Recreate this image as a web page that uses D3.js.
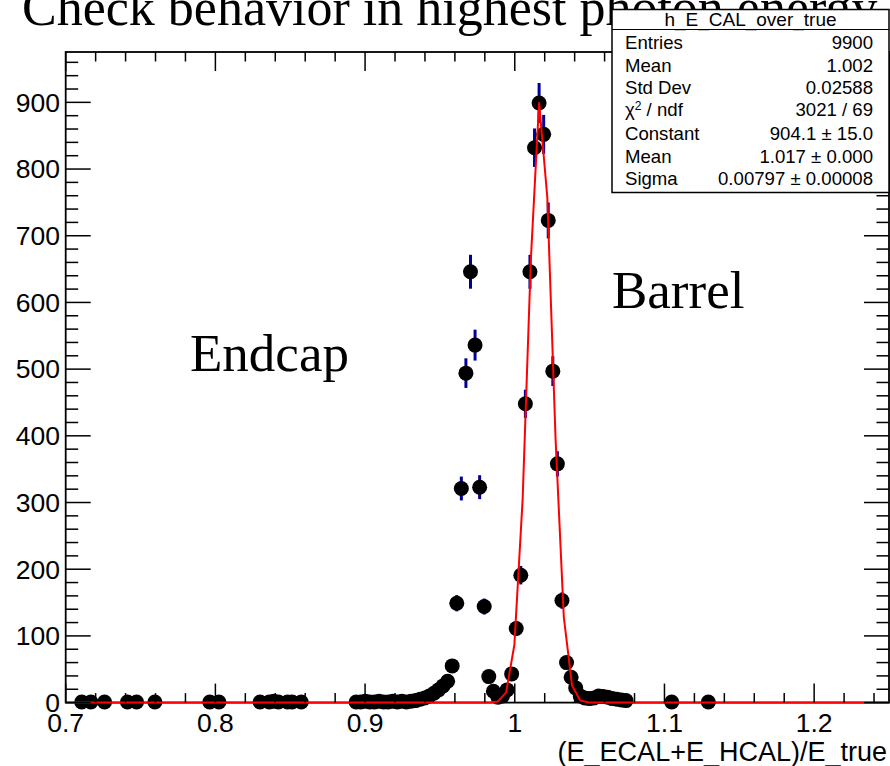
<!DOCTYPE html>
<html>
<head>
<meta charset="utf-8">
<script src="https://cdn.jsdelivr.net/npm/d3@7"></script>
<style>
  html, body { margin: 0; padding: 0; background: #ffffff; }
  svg { display: block; }
  .sans { font-family: "Liberation Sans", Arial, Helvetica, sans-serif; }
  .serif { font-family: "Liberation Serif", "Times New Roman", Times, serif; }
</style>
</head>
<body>
<svg id="chart" width="890" height="766"></svg>
<script>
// ---- histogram h_E_CAL_over_true: 180 bins on [0.7, 1.25]; filled bins only ----
const histLow = 0.7;
const histHigh = 1.25;
const histBins = 180;
const binIndex = [
  3, 5, 8, 13, 15, 19, 31, 33,
  42, 44, 45, 46, 48, 49, 51,
  63, 64, 65, 66, 67, 68, 69, 70, 71, 72, 73, 74, 75,
  76, 77, 78, 79, 80, 81, 82, 83, 84, 85, 86, 87, 88, 89, 90, 91, 92, 93, 94, 95,
  96, 97, 98, 99, 100, 101, 102, 103, 104, 105, 106, 107, 108, 109, 110, 111, 112,
  113, 114, 115, 116, 117, 118, 119, 120, 121, 122, 132, 140
];
const binCount = [
  1, 1, 1, 1, 1, 1, 1, 1,
  1, 1, 2, 1, 1, 1, 1,
  1, 1, 2, 1, 1, 2, 1, 1, 2, 1, 2, 1, 2,
  3, 5, 7, 10, 14, 19, 25, 32, 55, 149, 321, 494, 646, 536, 323, 144, 39, 17, 8, 10,
  19, 43, 111, 191, 448, 646, 832, 899, 852, 723, 497, 358, 153, 60, 38, 22, 10,
  7, 6, 7, 10, 9, 8, 6, 5, 4, 3, 1, 1
];

// ---- Gaussian fit result ----
const fitConstant = 904.1;
const fitMean = 1.017;
const fitSigma = 0.00797;
const fitSamples = 100;

// ---- axis ticks ----
const xMajorTicks = [0.7, 0.8, 0.9, 1.0, 1.1, 1.2];
const xTickLabels = ["0.7", "0.8", "0.9", "1", "1.1", "1.2"];
const yMajorTicks = [0, 100, 200, 300, 400, 500, 600, 700, 800, 900];
const yTickLabels = ["0", "100", "200", "300", "400", "500", "600", "700", "800", "900"];
const yMax = 975.5;

// ---- statistics box ----
const statsTitle = "h_E_CAL_over_true";
const statsLabels = ["Entries", "Mean", "Std Dev", "CHI2", "Constant", "Mean", "Sigma"];
const statsValues = ["9900", "1.002", "0.02588", "3021 / 69", "904.1 \u00b1 15.0", "1.017 \u00b1 0.000", "0.00797 \u00b1 0.00008"];

const titleText = "Check behavior in highest photon energy";
const axisTitle = "(E_ECAL+E_HCAL)/E_true";

// ---- layout ----
const frame = { left: 65.7, right: 889, top: 52, bottom: 702.6 };
const svg = d3.select("#chart");

const x = d3.scaleLinear().domain([histLow, histHigh]).range([frame.left, frame.right]);
const y = d3.scaleLinear().domain([0, yMax]).range([frame.bottom, frame.top]);

const binWidth = (histHigh - histLow) / histBins;
const points = binIndex.map((k, i) => ({
  x: histLow + (k + 0.5) * binWidth,
  n: binCount[i]
}));

// title (partly above the canvas)
svg.append("text")
  .attr("class", "serif")
  .attr("x", 22).attr("y", 25)
  .attr("font-size", 52)
  .attr("fill", "#000")
  .text(titleText);

// frame box
svg.append("rect")
  .attr("x", frame.left).attr("y", frame.top)
  .attr("width", frame.right - frame.left)
  .attr("height", frame.bottom - frame.top)
  .attr("fill", "none").attr("stroke", "#000").attr("stroke-width", 1.8);

// error bars
svg.append("g").selectAll("line").data(points).join("line")
  .attr("x1", d => x(d.x)).attr("x2", d => x(d.x))
  .attr("y1", d => y(d.n + Math.sqrt(d.n)))
  .attr("y2", d => y(Math.max(0, d.n - Math.sqrt(d.n))))
  .attr("stroke", "#000099").attr("stroke-width", 3);

// markers
svg.append("g").selectAll("circle").data(points).join("circle")
  .attr("cx", d => x(d.x)).attr("cy", d => y(d.n))
  .attr("r", 7.5).attr("fill", "#000");

// fitted Gaussian, sampled at the centres of fitSamples cells over the axis range
const step = (histHigh - histLow) / fitSamples;
const fitPts = d3.range(fitSamples).map(i => {
  const xv = histLow + (i + 0.5) * step;
  return [xv, fitConstant * Math.exp(-0.5 * Math.pow((xv - fitMean) / fitSigma, 2))];
});
fitPts.unshift([histLow, fitPts[0][1]]);
fitPts.push([histHigh, fitPts[fitPts.length - 1][1]]);
svg.append("path")
  .attr("d", d3.line().x(d => x(d[0])).y(d => y(d[1]))(fitPts))
  .attr("fill", "none").attr("stroke", "#ff0000").attr("stroke-width", 2);

// ticks
const tickG = svg.append("g").attr("stroke", "#000").attr("stroke-width", 1.5);
const xMinor = d3.range(0, 28).map(i => +(histLow + i * 0.02).toFixed(4)).filter(v => v <= histHigh + 1e-9);
xMinor.forEach(v => {
  const isMajor = xMajorTicks.some(m => Math.abs(m - v) < 1e-6);
  const len = isMajor ? 19 : 9.5;
  tickG.append("line").attr("x1", x(v)).attr("x2", x(v))
    .attr("y1", frame.bottom).attr("y2", frame.bottom - len);
  tickG.append("line").attr("x1", x(v)).attr("x2", x(v))
    .attr("y1", frame.top).attr("y2", frame.top + len);
});
const yMinor = d3.range(0, yMax, 20);
yMinor.forEach(v => {
  const isMajor = v % 100 === 0;
  const len = isMajor ? 25 : 12.5;
  tickG.append("line").attr("x1", frame.left).attr("x2", frame.left + len)
    .attr("y1", y(v)).attr("y2", y(v));
  tickG.append("line").attr("x1", frame.right).attr("x2", frame.right - len)
    .attr("y1", y(v)).attr("y2", y(v));
});

// tick labels
svg.append("g").selectAll("text").data(xMajorTicks).join("text")
  .attr("class", "sans")
  .attr("x", d => x(d)).attr("y", 732)
  .attr("text-anchor", "middle").attr("font-size", 26.5)
  .text((d, i) => xTickLabels[i]);
svg.append("g").selectAll("text").data(yMajorTicks).join("text")
  .attr("class", "sans")
  .attr("x", 60).attr("y", d => y(d) + 9.3)
  .attr("text-anchor", "end").attr("font-size", 26.5)
  .text((d, i) => yTickLabels[i]);

// axis title
svg.append("text")
  .attr("class", "sans")
  .attr("x", 887).attr("y", 761)
  .attr("text-anchor", "end").attr("font-size", 27)
  .text(axisTitle);

// region labels
svg.append("text").attr("class", "serif")
  .attr("x", 190).attr("y", 371).attr("font-size", 53).text("Endcap");
svg.append("text").attr("class", "serif")
  .attr("x", 612).attr("y", 308).attr("font-size", 53).text("Barrel");

// statistics box
const box = { x: 612, y: 9.5, w: 277, h: 183 };
const sg = svg.append("g").attr("class", "sans");
sg.append("rect")
  .attr("x", box.x).attr("y", box.y).attr("width", box.w).attr("height", box.h)
  .attr("fill", "#fff").attr("stroke", "#000").attr("stroke-width", 1.5);
sg.append("line")
  .attr("x1", box.x).attr("x2", box.x + box.w)
  .attr("y1", 29.5).attr("y2", 29.5)
  .attr("stroke", "#000").attr("stroke-width", 1.2);
sg.append("text")
  .attr("x", box.x + box.w / 2).attr("y", 25.5)
  .attr("text-anchor", "middle").attr("font-size", 19)
  .text(statsTitle);
const rowBase = [49, 72, 94, 116, 140, 163, 185];
statsLabels.forEach((lab, i) => {
  const t = sg.append("text").attr("x", 625).attr("y", rowBase[i]).attr("font-size", 18.6);
  if (lab === "CHI2") {
    t.append("tspan").text("\u03c7");
    t.append("tspan").attr("font-size", 12).attr("dy", -6).text("2");
    t.append("tspan").attr("dy", 6).text(" / ndf");
  } else {
    t.text(lab);
  }
  sg.append("text").attr("x", 873).attr("y", rowBase[i])
    .attr("text-anchor", "end").attr("font-size", 18.6)
    .text(statsValues[i]);
});
</script>
</body>
</html>
